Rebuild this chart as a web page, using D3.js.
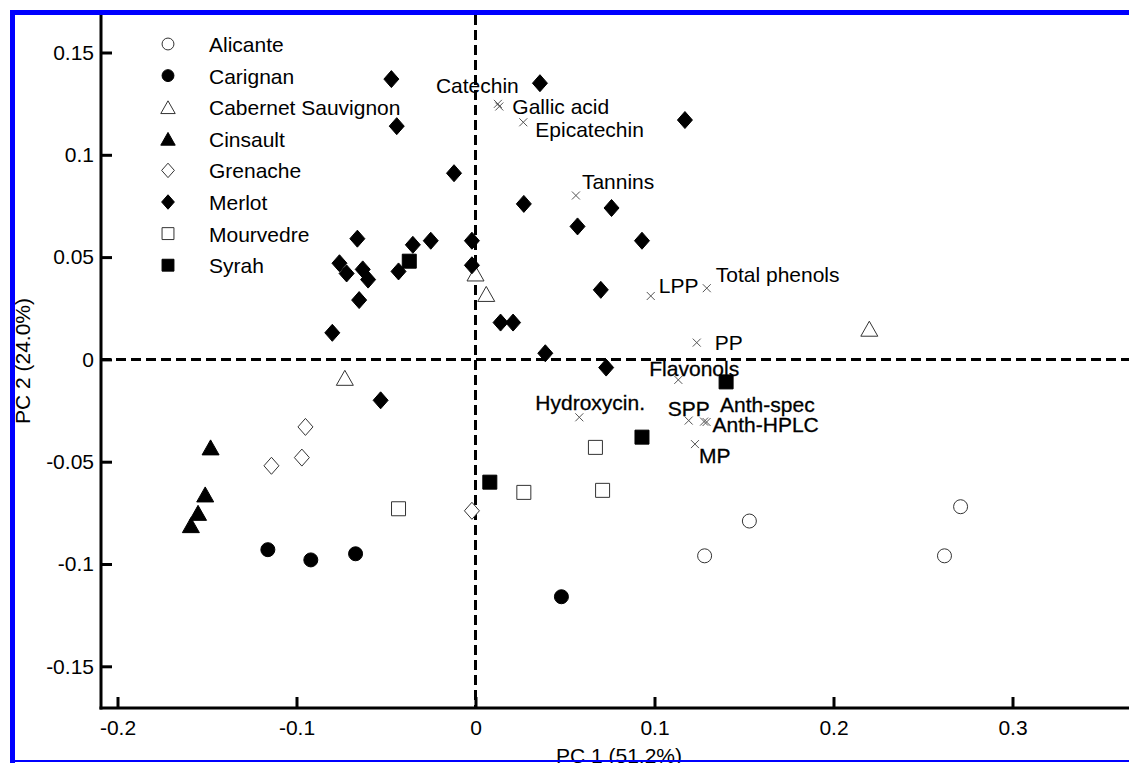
<!DOCTYPE html>
<html><head><meta charset="utf-8">
<script src="https://cdn.jsdelivr.net/npm/d3@7"></script>
<style>html,body{margin:0;padding:0;background:#fff;} svg{display:block;}</style>
</head><body><svg id="c" width="1129" height="763"></svg>
<script>
// ---------- DATA ----------
const cultivars = ["Alicante","Carignan","Cabernet Sauvignon","Cinsault","Grenache","Merlot","Mourvedre","Syrah"];
const alicante = [[0.128,-0.096],[0.153,-0.079],[0.262,-0.096],[0.271,-0.072]];
const carignan = [[-0.116,-0.093],[-0.092,-0.098],[-0.067,-0.095],[0.048,-0.116]];
const cabernet = [[0.000,0.042],[0.006,0.032],[-0.073,-0.009],[0.220,0.015]];
const cinsault = [[-0.148,-0.043],[-0.151,-0.066],[-0.155,-0.075],[-0.159,-0.081]];
const grenache = [[-0.095,-0.033],[-0.114,-0.052],[-0.097,-0.048],[-0.002,-0.074]];
const merlot = [[-0.047,0.137],[-0.044,0.114],[-0.012,0.091],[0.027,0.076],[0.036,0.135],[0.117,0.117],
  [0.076,0.074],[0.057,0.065],[0.093,0.058],[-0.066,0.059],[-0.035,0.056],[-0.025,0.058],[-0.002,0.058],
  [-0.076,0.047],[-0.072,0.042],[-0.063,0.044],[-0.060,0.039],[-0.043,0.043],[-0.002,0.046],[-0.065,0.029],
  [-0.080,0.013],[0.014,0.018],[0.021,0.018],[-0.053,-0.020],[0.070,0.034],[0.039,0.003],[0.073,-0.004]];
const mourvedre = [[-0.043,-0.073],[0.067,-0.043],[0.071,-0.064],[0.027,-0.065]];
const syrah = [[-0.037,0.048],[0.140,-0.011],[0.093,-0.038],[0.008,-0.060]];

const variableNames = ["Catechin","Gallic acid","Epicatechin","Tannins","LPP","Total phenols","PP","Flavonols","Hydroxycin.","SPP","Anth-spec","Anth-HPLC","MP"];
const variablePC1 = [0.0125,0.0133,0.0267,0.0561,0.0979,0.1292,0.1236,0.1133,0.0580,0.1191,0.1277,0.1291,0.1226];
const variablePC2 = [0.1249,0.1236,0.1159,0.0801,0.0310,0.0348,0.0082,-0.0100,-0.0283,-0.0299,-0.0304,-0.0306,-0.0414];

const xTicks = [-0.2,-0.1,0,0.1,0.2,0.3];
const xTickLabels = ["-0.2","-0.1","0","0.1","0.2","0.3"];
const yTicks = [0.15,0.1,0.05,0,-0.05,-0.1,-0.15];
const yTickLabels = ["0.15","0.1","0.05","0","-0.05","-0.1","-0.15"];
const xTitle = "PC 1 (51.2%)";
const yTitle = "PC 2 (24.0%)";

// ---------- LAYOUT / STYLE ----------
const W = 1129, H = 763;
const FONT = "'Liberation Sans', Arial, Helvetica, sans-serif";
const seriesData = [alicante, carignan, cabernet, cinsault, grenache, merlot, mourvedre, syrah];
const seriesStyle = [
  {shape:"circle", filled:false},{shape:"circle", filled:true},
  {shape:"triangle", filled:false},{shape:"triangle", filled:true},
  {shape:"diamond", filled:false},{shape:"diamond", filled:true},
  {shape:"square", filled:false},{shape:"square", filled:true}];
// label offsets (px) relative to each loading marker
const labelOffsets = [[-62,-11],[13,7],[12,15],[6,-7],[8,-3],[9,-6],[18,7],[-29,-4],[-44,-7],[-21,-5],[16,-10],[6,10],[4,19]];
const heavyLabels = new Set(["Flavonols","Hydroxycin.","SPP","Anth-spec","Anth-HPLC","MP"]);

const svg = d3.select("#c");
svg.append("rect").attr("width",W).attr("height",H).attr("fill","#fff");

const x = d3.scaleLinear().domain([-0.2,0.3]).range([117.5,1012.5]);
const y = d3.scaleLinear().domain([-0.15,0.15]).range([666.3,52.5]);
const axisX = 101, axisY = 708, topY = 15;

function shapePath(type, s){
  const p = d3.path();
  if(type==="circle"){ p.arc(0,0,7*s,0,2*Math.PI); }
  else if(type==="triangle"){ const hw=8.5*s, h=15*s; p.moveTo(0,-h/2); p.lineTo(hw,h/2); p.lineTo(-hw,h/2); p.closePath(); }
  else if(type==="diamond"){ const hw=7.5*s, hh=8.5*s; p.moveTo(0,-hh); p.lineTo(hw,0); p.lineTo(0,hh); p.lineTo(-hw,0); p.closePath(); }
  else if(type==="square"){ const h=7*s; p.rect(-h,-h,2*h,2*h); }
  return p.toString();
}

// dashed zero lines
svg.append("line").attr("x1",x(0)).attr("x2",x(0)).attr("y1",topY).attr("y2",axisY)
  .attr("stroke","#000").attr("stroke-width",3).attr("stroke-dasharray","10,5");
svg.append("line").attr("x1",axisX).attr("x2",W).attr("y1",y(0)).attr("y2",y(0))
  .attr("stroke","#000").attr("stroke-width",3).attr("stroke-dasharray","10,5");

// points
seriesData.forEach((pts,i)=>{
  const st = seriesStyle[i];
  svg.append("g").selectAll("path").data(pts).join("path")
    .attr("transform",d=>`translate(${x(d[0])},${y(d[1])})`)
    .attr("d",shapePath(st.shape,1))
    .attr("fill",st.filled?"#000":"#fff")
    .attr("stroke",st.filled?"#000":"#333")
    .attr("stroke-width",1);
});

// variable loadings (x markers) and labels
const vg = svg.append("g");
variableNames.forEach((name,i)=>{
  const cx = x(variablePC1[i]), cy = y(variablePC2[i]);
  vg.append("path").attr("d",`M${cx-4},${cy-4}L${cx+4},${cy+4}M${cx-4},${cy+4}L${cx+4},${cy-4}`)
    .attr("stroke","#555").attr("stroke-width",1);
  vg.append("text").attr("x",cx+labelOffsets[i][0]).attr("y",cy+labelOffsets[i][1])
    .attr("font-family",FONT).attr("font-size",21).attr("fill","#000")
    .attr("stroke",heavyLabels.has(name)?"#000":"none").attr("stroke-width",0.3)
    .text(name);
});

// legend
const lg = svg.append("g");
cultivars.forEach((name,i)=>{
  const by = 52 + i*31.6;
  const st = seriesStyle[i];
  lg.append("path").attr("transform",`translate(168,${by-8})`).attr("d",shapePath(st.shape,0.85))
    .attr("fill",st.filled?"#000":"#fff").attr("stroke",st.filled?"#000":"#333").attr("stroke-width",1);
  lg.append("text").attr("x",209).attr("y",by).attr("font-family",FONT).attr("font-size",21)
    .attr("fill","#000").text(name);
});

// axes
const gy = svg.append("g").attr("transform",`translate(${axisX},0)`)
  .call(d3.axisLeft(y).tickValues(yTicks).tickFormat((d,i)=>yTickLabels[i]).tickSizeInner(-11).tickSizeOuter(0).tickPadding(7));
gy.select(".domain").remove();
gy.attr("font-family",FONT).attr("font-size",21);
gy.selectAll(".tick line").attr("stroke","#000").attr("stroke-width",3);
gy.selectAll(".tick text").attr("fill","#000");

const gx = svg.append("g").attr("transform",`translate(0,${axisY})`)
  .call(d3.axisBottom(x).tickValues(xTicks).tickFormat((d,i)=>xTickLabels[i]).tickSizeInner(-11).tickSizeOuter(0).tickPadding(12));
gx.select(".domain").remove();
gx.attr("font-family",FONT).attr("font-size",21);
gx.selectAll(".tick line").attr("stroke","#000").attr("stroke-width",3);
gx.selectAll(".tick text").attr("fill","#000");

svg.append("line").attr("x1",axisX).attr("x2",axisX).attr("y1",topY).attr("y2",axisY+1.5)
  .attr("stroke","#000").attr("stroke-width",3);
svg.append("line").attr("x1",axisX-1.5).attr("x2",W).attr("y1",axisY).attr("y2",axisY)
  .attr("stroke","#000").attr("stroke-width",3);

// axis titles
svg.append("text").attr("x",619).attr("y",763).attr("text-anchor","middle")
  .attr("font-family",FONT).attr("font-size",21).attr("fill","#000").text(xTitle);
svg.append("text").attr("transform","translate(30,361) rotate(-90)").attr("text-anchor","middle")
  .attr("font-family",FONT).attr("font-size",21).attr("fill","#000").text(yTitle);

// blue frame
svg.append("rect").attr("x",10).attr("y",10).attr("width",W-10).attr("height",5).attr("fill","#0000ff");
svg.append("rect").attr("x",10).attr("y",10).attr("width",5).attr("height",H-10).attr("fill","#0000ff");
svg.append("rect").attr("x",10).attr("y",760).attr("width",W-10).attr("height",2).attr("fill","#0000ff");
</script></body></html>
